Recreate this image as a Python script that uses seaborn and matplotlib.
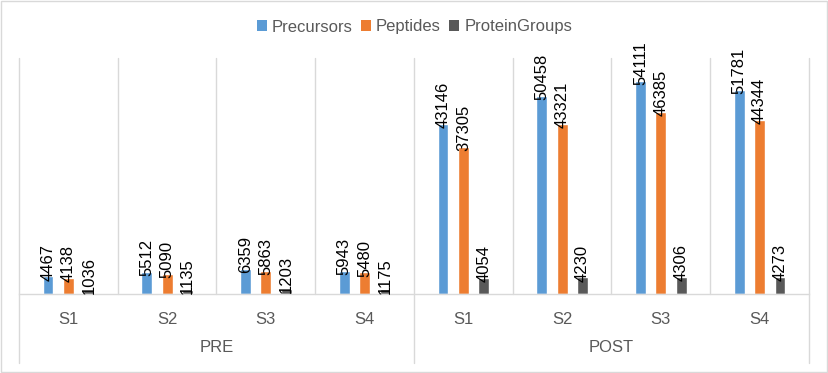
import pandas as pd
import seaborn as sns
import matplotlib
matplotlib.use('Agg')
from matplotlib import pyplot as plt
from matplotlib.patches import Patch, Rectangle
import matplotlib.transforms as mtransforms

# data
phases = ['PRE', 'POST']
samples = ['S1', 'S2', 'S3', 'S4']
series = ['Precursors', 'Peptides', 'ProteinGroups']
precursors = [4467, 5512, 6359, 5943, 43146, 50458, 54111, 51781]
peptides = [4138, 5090, 5863, 5480, 37305, 43321, 46385, 44344]
protein_groups = [1036, 1135, 1203, 1175, 4054, 4230, 4306, 4273]
colors = ['#5B9BD5', '#ED7D31', '#595959']

grid_col = '#D9D9D9'
text_col = '#595959'

# long form table for seaborn
groups = [p + ' ' + s for p in phases for s in samples]
rows = []
for name, vals in zip(series, [precursors, peptides, protein_groups]):
    for g, v in zip(groups, vals):
        rows.append({'group': g, 'series': name, 'value': v})
df = pd.DataFrame(rows)

sns.set_style('white')
plt.rcParams['font.family'] = ['Liberation Sans', 'DejaVu Sans']

fig = plt.figure(figsize=(8.29, 3.73), dpi=100)
ax = fig.add_axes([19 / 829, 1 - 294 / 373, 790 / 829, 236 / 373])

sns.barplot(data=df, x='group', y='value', hue='series', order=groups,
            hue_order=series, palette=colors, width=0.62, gap=0.47,
            saturation=1, legend=False, ax=ax)

for cont in ax.containers:
    ax.bar_label(cont, rotation=90, padding=-3, fontsize=12, color='black')

ax.set_ylim(0, 60000)
ax.set_xlim(-0.5, len(groups) - 0.5)
ax.set_yticks([])
ax.set_xlabel('')
ax.set_ylabel('')
for sp in ['top', 'left', 'right']:
    ax.spines[sp].set_visible(False)
ax.spines['bottom'].set_color(grid_col)
ax.spines['bottom'].set_linewidth(1)

ax.set_xticks(range(len(groups)))
ax.set_xticklabels(samples * len(phases), color=text_col, fontsize=12)
ax.tick_params(axis='x', length=0, pad=13)

# separators between categories
trans = mtransforms.blended_transform_factory(ax.transData, ax.transAxes)
for k in range(len(groups) + 1):
    x = k - 0.5
    if k % len(samples) == 0:
        ax.plot([x, x], [1, -69 / 236], transform=trans, color=grid_col,
                lw=1, clip_on=False, zorder=0)
    else:
        ax.plot([x, x], [1, 0], transform=trans, color=grid_col,
                lw=1, clip_on=False, zorder=0)

# outer category labels
for i, p in enumerate(phases):
    xc = i * len(samples) + (len(samples) - 1) / 2
    ax.text(xc, -53 / 236, p, transform=trans, ha='center', va='center',
            color=text_col, fontsize=12)

handles = [Patch(facecolor=c, edgecolor='none') for c in colors]
fig.legend(handles, series, loc='center', bbox_to_anchor=(0.5, 1 - 27 / 373),
           ncol=3, frameon=False, fontsize=12, labelcolor=text_col,
           handlelength=0.6, handleheight=0.6, handletextpad=0.3,
           columnspacing=0.5)

fig.patches.append(Rectangle((0.001, 0.002), 0.997, 0.995, transform=fig.transFigure,
                             fill=False, edgecolor=grid_col, lw=1))

fig.savefig('out.png', dpi=100)
